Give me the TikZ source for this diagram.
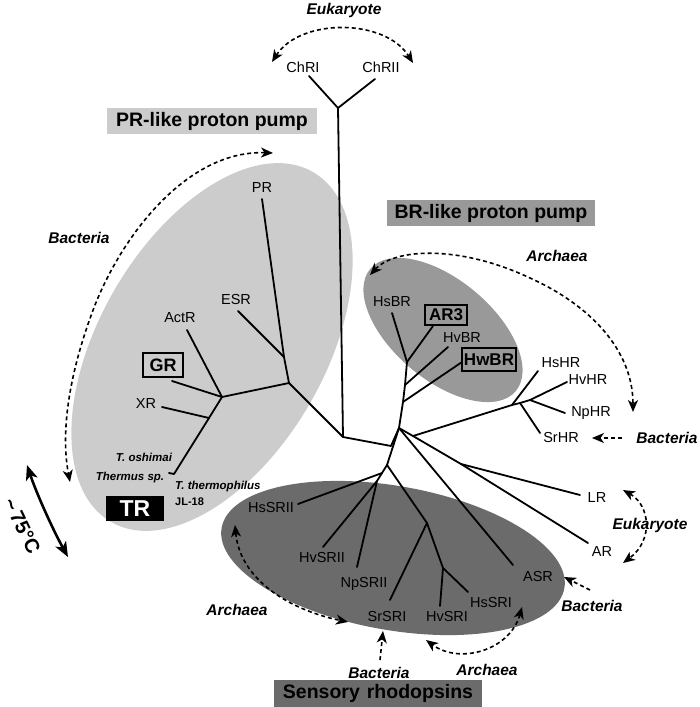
\documentclass[tikz,border=0pt]{standalone}
\usepackage{fontspec}
\setmainfont{Liberation Sans}
\usetikzlibrary{arrows.meta}
\definecolor{prgrey}{gray}{0.80}
\definecolor{brgrey}{gray}{0.60}
\definecolor{srgrey}{gray}{0.42}
\begin{document}
\begin{tikzpicture}[x=1pt,y=-1pt,
  >={Stealth[length=12pt,width=10pt,inset=3.5pt]},
  lab/.style={font=\fontsize{14.5}{16}\selectfont, inner sep=0pt},
  bi/.style={font=\fontsize{15.5}{17}\selectfont\bfseries\itshape, inner sep=0pt},
  sbi/.style={font=\fontsize{11.5}{13}\selectfont\bfseries\itshape, inner sep=0pt},
  title/.style={font=\fontsize{19.5}{21}\selectfont\bfseries, inner sep=0pt, minimum height=26pt},
  boxed/.style={draw, line width=1.8pt, font=\fontsize{17}{19}\selectfont\bfseries, inner sep=0pt},
  tl/.style={line width=1.8pt, line cap=round, line join=round},
  darr/.style={line width=1.6pt, dash pattern=on 4pt off 3pt}]
\useasboundingbox (0,0) rectangle (700,707);

% clade ellipses
\fill[prgrey, rotate around={60:(212,347)}] (212,347) ellipse [x radius=202pt, y radius=113pt];
\fill[brgrey, rotate around={-40:(443,330)}] (443,330) ellipse [x radius=95pt, y radius=50pt];
\fill[srgrey, rotate around={-10:(393,558)}] (393,558) ellipse [x radius=174pt, y radius=72pt];

% tree coordinates
\coordinate (chj) at (338,108);
\coordinate (ch1) at (309,76);
\coordinate (ch2) at (375,79);
\coordinate (c1) at (343,437);
\coordinate (p1) at (289,383);
\coordinate (p0) at (284,357);
\coordinate (pre) at (262,199);
\coordinate (esre) at (238,311);
\coordinate (p2) at (222,397);
\coordinate (acte) at (187,330);
\coordinate (gre) at (172,381);
\coordinate (p3) at (209,418);
\coordinate (xre) at (162,407);
\coordinate (te) at (174,474);
\coordinate (tk) at (169,473);
\coordinate (c2) at (391,446);
\coordinate (n) at (399,428);
\coordinate (bw) at (403,402);
\coordinate (bv) at (405,385);
\coordinate (bs) at (407,362);
\coordinate (hsbre) at (392,313);
\coordinate (ar3e) at (433,326);
\coordinate (hvbre) at (448,347);
\coordinate (hwbre) at (462,362);
\coordinate (h) at (413,436);
\coordinate (m) at (461,464);
\coordinate (h1) at (512,405);
\coordinate (hshre) at (538,371);
\coordinate (h2) at (520,403);
\coordinate (srhre) at (540,433);
\coordinate (h3) at (530,400);
\coordinate (hvhre) at (567,382);
\coordinate (nphre) at (565,413);
\coordinate (lre) at (580,495);
\coordinate (are) at (588,543);
\coordinate (asre) at (513,565);
\coordinate (s1) at (387,465);
\coordinate (s2) at (382,473);
\coordinate (hssrIIe) at (298,504);
\coordinate (s3) at (377,481);
\coordinate (hvsrIIe) at (323,547);
\coordinate (npsrIIe) at (357,567);
\coordinate (s4) at (427,523);
\coordinate (srsrIe) at (390,600);
\coordinate (s5) at (443,568);
\coordinate (hvsrIe) at (440,606);
\coordinate (hssrIe) at (468,592);

% tree
\draw[tl] (ch1) -- (chj) -- (ch2);
\draw[tl] (chj) -- (c1) -- (p1) -- (p0) -- (pre);
\draw[tl] (p0) -- (esre);
\draw[tl] (p1) -- (p2) -- (acte);
\draw[tl] (p2) -- (gre);
\draw[tl] (p2) -- (p3) -- (xre);
\draw[tl] (p3) -- (te) -- (tk);
\draw[tl] (c1) -- (c2) -- (n) -- (bw) -- (bv) -- (bs) -- (hsbre);
\draw[tl] (bs) -- (ar3e);
\draw[tl] (bv) -- (hvbre);
\draw[tl] (bw) -- (hwbre);
\draw[tl] (n) -- (h) -- (m) -- (lre);
\draw[tl] (m) -- (are);
\draw[tl] (h) -- (h1) -- (hshre);
\draw[tl] (h1) -- (h2) -- (srhre);
\draw[tl] (h2) -- (h3) -- (hvhre);
\draw[tl] (h3) -- (nphre);
\draw[tl] (n) -- (asre);
\draw[tl] (n) -- (s1) -- (s2) -- (hssrIIe);
\draw[tl] (s2) -- (s3) -- (hvsrIIe);
\draw[tl] (s3) -- (npsrIIe);
\draw[tl] (s1) -- (s4) -- (srsrIe);
\draw[tl] (s4) -- (s5) -- (hvsrIe);
\draw[tl] (s5) -- (hssrIe);

% leaf labels
\node[lab] (chri) at (303,67) {ChRI};
\node[lab] (chrii) at (381,67) {ChRII};
\node[lab] (pr) at (262,188) {PR};
\node[lab] (esr) at (236,300) {ESR};
\node[lab] (actr) at (180,318) {ActR};
\node[boxed, minimum width=40pt, minimum height=24pt, font=\fontsize{18}{20}\selectfont\bfseries] (gr) at (163,365) {GR};
\node[lab] (xr) at (146,404) {XR};
\node[sbi] (tosh) at (144,457) {T. oshimai};
\node[sbi] (tsp) at (130,478) {Thermus sp.};
\node[sbi, anchor=west] (tth) at (175,487) {T. thermophilus};
\node[font=\fontsize{11}{13}\selectfont\bfseries, inner sep=0pt, anchor=west] (jl) at (175,502) {JL-18};
\node[fill=black, text=white, font=\fontsize{23}{25}\selectfont\bfseries, inner sep=0pt, minimum width=58pt, minimum height=25pt] (tr) at (135,508.5) {TR};
\node[lab] (hsbr) at (392,302) {HsBR};
\node[boxed, minimum width=42pt, minimum height=20pt] (ar3) at (446,315) {AR3};
\node[lab] (hvbr) at (462,338) {HvBR};
\node[boxed, minimum width=54pt, minimum height=23pt] (hwbr) at (489,359.5) {HwBR};
\node[lab] (hshr) at (561,363) {HsHR};
\node[lab] (hvhr) at (588,380) {HvHR};
\node[lab] (nphr) at (591,413) {NpHR};
\node[lab] (srhr) at (561,438) {SrHR};
\node[lab] (lr) at (597,498) {LR};
\node[lab] (ar) at (602,552) {AR};
\node[lab] (asr) at (538,577) {ASR};
\node[lab] (hssri) at (491,603) {HsSRI};
\node[lab] (hvsri) at (447,617) {HvSRI};
\node[lab] (srsri) at (387,617) {SrSRI};
\node[lab] (npsrii) at (364,584) {NpSRII};
\node[lab] (hvsrii) at (322,558) {HvSRII};
\node[lab] (hssrii) at (271,508) {HsSRII};

% group titles
\node[title, fill=prgrey, minimum width=210pt] (prt) at (212,121) {PR-like proton pump};
\node[title, fill=brgrey, minimum width=208pt] (brt) at (491,213) {BR-like proton pump};
\node[title, fill=srgrey, minimum width=208pt, minimum height=27pt] (srt) at (378,693.5) {Sensory\hspace{7pt}rhodopsins};

% domain labels
\node[bi] (euk1) at (344,10) {Eukaryote};
\node[bi] (bac1) at (79,238) {Bacteria};
\node[bi] (arc1) at (557,256) {Archaea};
\node[bi] (bac2) at (667,438) {Bacteria};
\node[bi] (euk2) at (650,525) {Eukaryote};
\node[bi] (bac3) at (592,606) {Bacteria};
\node[bi] (arc2) at (487,670) {Archaea};
\node[bi] (bac4) at (379,673) {Bacteria};
\node[bi] (arc3) at (237,610) {Archaea};

% dashed arrows
\coordinate (a1s) at (272,62);
\coordinate (a1e) at (413,63);
\draw[darr, <->] (a1s) .. controls (300,18) and (385,18) .. (a1e);
\coordinate (a2s) at (273,153);
\coordinate (a2m) at (95,305);
\coordinate (a2e) at (70,482);
\draw[darr, <->] (a2s) .. controls (190,150) and (125,230) .. (a2m) .. controls (70,370) and (60,430) .. (a2e);
\coordinate (a3s) at (370,275);
\coordinate (a3m) at (530,278);
\coordinate (a3e) at (633,412);
\draw[darr, <->] (a3s) .. controls (395,248) and (460,245) .. (a3m) .. controls (590,305) and (633,350) .. (a3e);
\coordinate (a4s) at (622,438);
\coordinate (a4e) at (592,438);
\draw[darr, ->] (a4s) -- (a4e);
\coordinate (a5s) at (623,490);
\coordinate (a5e) at (623,563);
\draw[darr, <->] (a5s) .. controls (650,505) and (654,540) .. (a5e);
\coordinate (a6s) at (590,590);
\coordinate (a6e) at (564,577);
\draw[darr, ->] (a6s) -- (a6e);
\coordinate (a7s) at (522,607);
\coordinate (a7e) at (426,640);
\draw[darr, <->] (a7s) .. controls (510,650) and (460,665) .. (a7e);
\coordinate (a8s) at (380,660);
\coordinate (a8e) at (383,631);
\draw[darr, ->] (a8s) -- (a8e);
\coordinate (a9s) at (235,525);
\coordinate (a9e) at (348,622);
\draw[darr, <->] (a9s) .. controls (240,580) and (290,610) .. (a9e);

% temperature arrow
\coordinate (t1) at (27,465);
\coordinate (t2) at (68,557);
\draw[line width=2.6pt, {Stealth[length=15pt,width=12pt,inset=4pt]}-{Stealth[length=15pt,width=12pt,inset=4pt]}] (t1) .. controls (36,492) and (52,528) .. (t2);
\node[font=\fontsize{20}{22}\selectfont\bfseries, inner sep=0pt, rotate=-64] (temp) at (22,526) {\char`~\,75°C};
\end{tikzpicture}
\end{document}
